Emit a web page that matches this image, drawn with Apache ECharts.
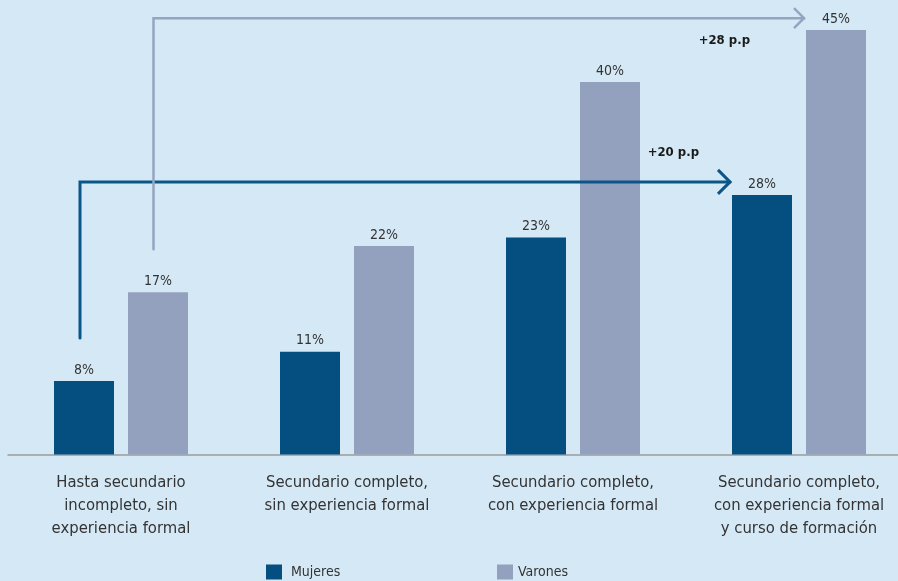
<!DOCTYPE html>
<html>
<head>
<meta charset="utf-8">
<style>
  html, body { margin: 0; padding: 0; background: #d5e8f5; }
  #chart { width: 898px; height: 581px; }
</style>
<script src="https://cdn.jsdelivr.net/npm/echarts@6/dist/echarts.min.js"></script>
</head>
<body>
<div id="chart"></div>
<script>
// ---- data ----
const categories = [
  'Hasta secundario\nincompleto, sin\nexperiencia formal',
  'Secundario completo,\nsin experiencia formal',
  'Secundario completo,\ncon experiencia formal',
  'Secundario completo,\ncon experiencia formal\ny curso de formación'
];
const seriesNames = ['Mujeres', 'Varones'];
const mujeres = [7.8, 10.9, 23.0, 27.5];
const varones = [17.2, 22.1, 39.5, 45.0];
// arrows: [fromCategory, startValue, levelValue, toCategory, side(-1 Mujeres, +1 Varones)]
const arrowMujeres = [0, 12.35, 28.9, 3, -1];
const arrowVarones = [0, 21.75, 46.25, 3, 1];
const arrowLabels = ['+20 p.p', '+28 p.p'];

// ---- style ----
const FONT = "'DejaVu Sans Condensed', 'Liberation Sans Narrow', sans-serif";
const C_DARK = '#044f80';
const C_LIGHT = '#93a1be';
const C_ARROW_DARK = '#0b5589';
const C_ARROW_LIGHT = '#95a4c1';
const BAR_W = 60;
const BAR_GAP = 14;
const OFF = (BAR_W + BAR_GAP) / 2;

const chart = echarts.init(document.getElementById('chart'), null, { renderer: 'canvas' });

const arrowStyles = [
  { color: C_ARROW_DARK, width: 3, head: 12, dx: -4, text: arrowLabels[0], tdx: -31, tdy: -29 },
  { color: C_ARROW_LIGHT, width: 2.5, head: 10, dx: -4.5, text: arrowLabels[1], tdx: -54, tdy: 22 }
];

function renderArrow(params, api) {
  const st = arrowStyles[params.dataIndex];
  const fromCat = api.value(0), startVal = api.value(1), levelVal = api.value(2), toCat = api.value(3), side = api.value(4);
  const p0 = api.coord([fromCat, startVal]);
  const p1 = api.coord([fromCat, levelVal]);
  const p2 = api.coord([toCat, levelVal]);
  const x0 = p0[0] + side * OFF + st.dx;
  const y0 = p0[1];
  const y1 = p1[1];
  const xEnd = p2[0] + side * OFF - BAR_W / 2 - 2;
  const h = st.head;
  return {
    type: 'group',
    children: [
      {
        type: 'polyline',
        shape: { points: [[x0, y0], [x0, y1], [xEnd, y1]] },
        style: { stroke: st.color, lineWidth: st.width, fill: null, lineCap: 'round', lineJoin: 'miter' }
      },
      {
        type: 'polyline',
        shape: { points: [[xEnd - h, y1 - h], [xEnd, y1], [xEnd - h, y1 + h]] },
        style: { stroke: st.color, lineWidth: st.width, fill: null, lineCap: 'butt', lineJoin: 'miter' }
      },
      {
        type: 'text',
        style: {
          text: st.text, x: xEnd + st.tdx, y: y1 + st.tdy,
          align: 'right', verticalAlign: 'middle',
          font: 'bold 13px ' + FONT, fill: '#1a1a1a'
        }
      }
    ]
  };
}

const labelCfg = {
  show: true, position: 'top', distance: 4,
  fontFamily: FONT, fontSize: 14, color: '#333333',
  formatter: p => Math.round(p.value) + '%'
};

chart.setOption({
  backgroundColor: '#d5e8f5',
  animation: false,
  textStyle: { fontFamily: FONT },
  grid: { left: 8, top: 30, width: 904, height: 424.5, containLabel: false, outerBoundsMode: 'none' },
  legend: [
    {
      data: [seriesNames[0]], left: 266, top: 564.5, padding: 0, itemWidth: 16, itemHeight: 15,
      icon: 'rect', textStyle: { fontFamily: FONT, fontSize: 14, color: '#333333', padding: [0, 0, 0, 4] }
    },
    {
      data: [seriesNames[1]], left: 497, top: 564.5, padding: 0, itemWidth: 16, itemHeight: 15,
      icon: 'rect', textStyle: { fontFamily: FONT, fontSize: 14, color: '#333333' }
    }
  ],
  xAxis: {
    type: 'category',
    data: categories,
    axisTick: { show: false },
    axisLine: { show: true, lineStyle: { color: '#9a9a9a', width: 1.5 } },
    axisLabel: {
      fontFamily: FONT, fontSize: 16.5, lineHeight: 23, color: '#333333',
      margin: 17, interval: 0, align: 'center'
    }
  },
  yAxis: {
    type: 'value', min: 0, max: 45,
    show: false,
    splitLine: { show: false }
  },
  series: [
    {
      name: seriesNames[0], type: 'bar', data: mujeres,
      barWidth: BAR_W, barGap: (BAR_GAP / BAR_W * 100) + '%',
      itemStyle: { color: C_DARK }, label: labelCfg, z: 2
    },
    {
      name: seriesNames[1], type: 'bar', data: varones,
      barWidth: BAR_W,
      itemStyle: { color: C_LIGHT }, label: labelCfg, z: 2
    },
    {
      type: 'custom',
      renderItem: renderArrow,
      data: [arrowMujeres, arrowVarones],
      encode: { x: 0, y: 1 },
      clip: false,
      silent: true,
      z: 5
    }
  ]
});
</script>
</body>
</html>
